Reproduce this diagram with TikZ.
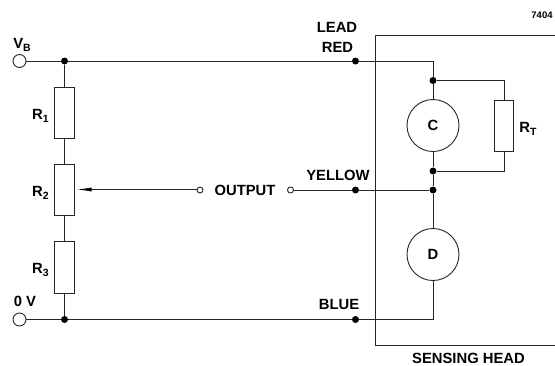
\documentclass[tikz,border=0pt]{standalone}
\usepackage{fontspec}
\setmainfont{Liberation Sans}
\usetikzlibrary{arrows.meta}
\tikzset{
  wire/.style={draw=black!85,line width=1pt},
  junc/.style={circle,fill=black,inner sep=0pt,minimum size=7pt},
  term/.style={circle,draw=black!85,fill=white,line width=0.9pt,inner sep=0pt,minimum size=13pt},
  smallterm/.style={circle,draw=black!85,fill=white,line width=0.9pt,inner sep=0pt,minimum size=6pt},
  res/.style={draw=black!85,fill=white,line width=1pt,inner sep=0pt,minimum width=19.5pt,minimum height=51.5pt},
  gauge/.style={circle,draw=black!85,fill=white,line width=0.9pt,inner sep=0pt,minimum size=52pt,font=\lbl},
  lab/.style={inner sep=0pt,font=\lbl},
}
\newcommand{\lbl}{\fontsize{14.8}{16}\selectfont\bfseries}
\newcommand{\subs}[1]{\raisebox{-3pt}{\fontsize{10.5}{11}\selectfont\bfseries #1}}
\begin{document}
\begin{tikzpicture}[x=1pt,y=-1pt]
\useasboundingbox (0,0) rectangle (555,365);
% sensing head box (open on the right)
\coordinate (boxTR) at (555,35);
\coordinate (boxTL) at (375,35);
\coordinate (boxBL) at (375,345);
\coordinate (boxBR) at (555,345);
\draw[wire] (boxTR) -- (boxTL) -- (boxBL) -- (boxBR);
% nodes
\node[term] (vb) at (19.5,61) {};
\node[term] (zero) at (19.5,319.5) {};
\node[junc] (j1) at (64.5,61) {};
\node[junc] (j2) at (64.5,319.5) {};
\node[res] (r1) at (64.5,112.8) {};
\node[res] (r2) at (64.5,190) {};
\node[res] (r3) at (64.5,267.3) {};
\node[junc] (red) at (355.5,61) {};
\node[junc] (yellow) at (355.5,190) {};
\node[junc] (blue) at (355.5,319.5) {};
\node[junc] (jc1) at (433,80.5) {};
\node[junc] (jc2) at (433,171) {};
\node[junc] (jd) at (433,190) {};
\node[gauge] (c) at (433,125.5) {C};
\node[gauge] (d) at (433,254.5) {D};
\node[res] (rt) at (504,125.8) {};
\node[smallterm] (o1) at (200,190) {};
\node[smallterm] (o2) at (290.5,190) {};
\coordinate (wiper) at (76.5,189.5);
\coordinate (o1w) at (197,189.5);
\coordinate (topc) at (433,61);
\coordinate (botd) at (433,319.5);
\coordinate (rtt) at (504,80.5);
\coordinate (rtb) at (504,171);
% connectors
\draw[wire] (vb) -- (j1) -- (red) -- (topc) -- (jc1) -- (c) -- (jc2) -- (jd) -- (d) -- (botd) -- (blue) -- (j2) -- (zero);
\draw[wire] (j1) -- (r1);
\draw[wire] (r1) -- (r2);
\draw[wire] (r2) -- (r3);
\draw[wire] (r3) -- (j2);
\draw[wire] (jc1) -- (rtt) -- (rt);
\draw[wire] (rt) -- (rtb) -- (jc2);
\draw[wire] (o2) -- (yellow) -- (jd);
\draw[wire,{Latex[length=15pt,width=4pt,black]}-] (wiper) -- (o1w);
% labels
\node[lab] (lvb) at (22,44.5) {V\subs{B}};
\node[lab] (lzero) at (25,301) {0 V};
\node[lab] at (40.5,115.5) {R\subs{1}};
\node[lab] at (40.5,193) {R\subs{2}};
\node[lab] at (40.5,270) {R\subs{3}};
\node[lab] at (245,190) {OUTPUT};
\node[lab] at (337,27.5) {LEAD};
\node[lab] at (337.5,47) {RED};
\node[lab] at (338,175.5) {YELLOW};
\node[lab] at (339,304.5) {BLUE};
\node[lab] at (528,129) {R\subs{T}};
\node[lab] at (468.5,358) {SENSING HEAD};
\node[inner sep=0pt,font=\fontsize{9.5}{10}\selectfont\bfseries] at (542,15.5) {7404};
\end{tikzpicture}
\end{document}
